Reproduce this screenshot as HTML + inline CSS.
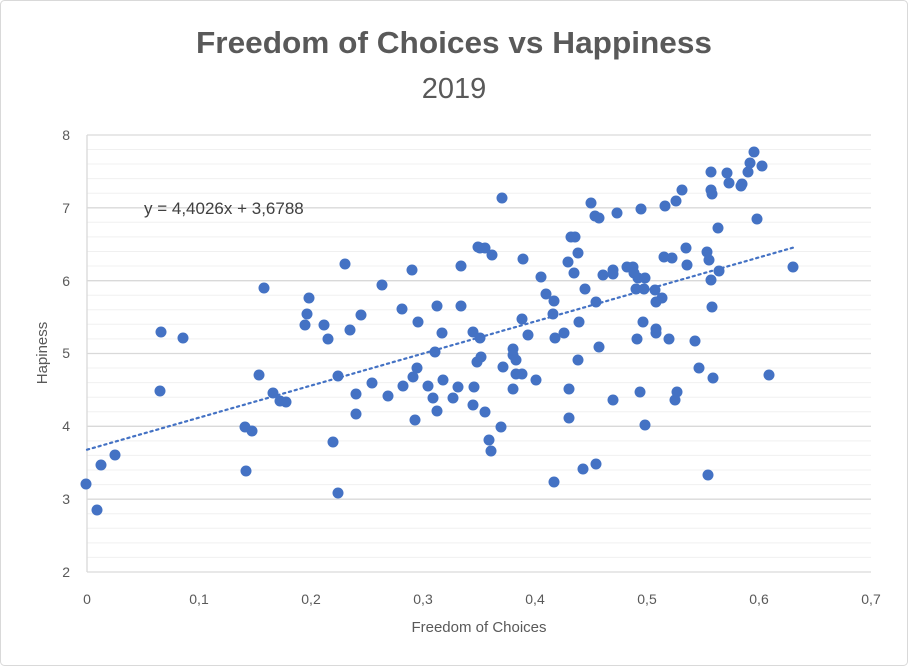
<!DOCTYPE html>
<html><head><meta charset="utf-8"><style>
html,body{margin:0;padding:0;background:#fff;}
svg{display:block;font-family:"Liberation Sans",sans-serif;}
</style></head><body>
<svg width="908" height="666" viewBox="0 0 908 666" xmlns="http://www.w3.org/2000/svg">
<rect x="0.5" y="0.5" width="907" height="665" rx="4" fill="#fff" stroke="#d9d9d9"/>
<text x="454" y="53" text-anchor="middle" font-size="31" font-weight="bold" fill="#595959" textLength="516" lengthAdjust="spacingAndGlyphs">Freedom of Choices vs Happiness</text>
<text x="454" y="98" text-anchor="middle" font-size="29" fill="#595959">2019</text>
<g stroke="#f0f0f0" stroke-width="1">
<path d="M87 557.4H871M87 542.9H871M87 528.3H871M87 513.7H871M87 484.6H871M87 470H871M87 455.4H871M87 440.9H871M87 411.7H871M87 397.2H871M87 382.6H871M87 368H871M87 338.9H871M87 324.3H871M87 309.7H871M87 295.2H871M87 266H871M87 251.5H871M87 236.9H871M87 222.3H871M87 193.2H871M87 178.6H871M87 164H871M87 149.5H871"/>
</g>
<g stroke="#d9d9d9" stroke-width="1.3">
<path d="M87 572H871M87 499.2H871M87 426.3H871M87 353.5H871M87 280.7H871M87 207.8H871M87 135H871"/>
<path d="M87 135V572"/>
</g>
<g font-size="14" fill="#595959" text-anchor="end">
<text x="70" y="577">2</text><text x="70" y="504">3</text><text x="70" y="431">4</text><text x="70" y="358">5</text><text x="70" y="286">6</text><text x="70" y="213">7</text><text x="70" y="140">8</text>
</g>
<g font-size="14" fill="#595959" text-anchor="middle">
<text x="87" y="604">0</text><text x="199" y="604">0,1</text><text x="311" y="604">0,2</text><text x="423" y="604">0,3</text><text x="535" y="604">0,4</text><text x="647" y="604">0,5</text><text x="759" y="604">0,6</text><text x="871" y="604">0,7</text>
</g>
<text x="479" y="632" text-anchor="middle" font-size="15" fill="#595959">Freedom of Choices</text>
<text transform="translate(47,353) rotate(-90)" text-anchor="middle" font-size="15" fill="#595959">Hapiness</text>
<text x="144" y="214" font-size="17" fill="#404040">y = 4,4026x + 3,6788</text>
<g fill="#4472C4">
<circle cx="86" cy="484" r="5.5"/><circle cx="97" cy="510" r="5.5"/><circle cx="101" cy="465" r="5.5"/><circle cx="115" cy="455" r="5.5"/><circle cx="161" cy="332" r="5.5"/><circle cx="160" cy="391" r="5.5"/><circle cx="183" cy="338" r="5.5"/><circle cx="259" cy="375" r="5.5"/><circle cx="264" cy="288" r="5.5"/><circle cx="273" cy="393" r="5.5"/><circle cx="280" cy="401" r="5.5"/><circle cx="286" cy="402" r="5.5"/><circle cx="245" cy="427" r="5.5"/><circle cx="252" cy="431" r="5.5"/><circle cx="246" cy="471" r="5.5"/><circle cx="305" cy="325" r="5.5"/><circle cx="307" cy="314" r="5.5"/><circle cx="309" cy="298" r="5.5"/><circle cx="324" cy="325" r="5.5"/><circle cx="328" cy="339" r="5.5"/><circle cx="345" cy="264" r="5.5"/><circle cx="350" cy="330" r="5.5"/><circle cx="361" cy="315" r="5.5"/><circle cx="338" cy="376" r="5.5"/><circle cx="356" cy="394" r="5.5"/><circle cx="356" cy="414" r="5.5"/><circle cx="333" cy="442" r="5.5"/><circle cx="338" cy="493" r="5.5"/><circle cx="372" cy="383" r="5.5"/><circle cx="382" cy="285" r="5.5"/><circle cx="388" cy="396" r="5.5"/><circle cx="402" cy="309" r="5.5"/><circle cx="403" cy="386" r="5.5"/><circle cx="412" cy="270" r="5.5"/><circle cx="418" cy="322" r="5.5"/><circle cx="417" cy="368" r="5.5"/><circle cx="413" cy="377" r="5.5"/><circle cx="415" cy="420" r="5.5"/><circle cx="428" cy="386" r="5.5"/><circle cx="433" cy="398" r="5.5"/><circle cx="437" cy="411" r="5.5"/><circle cx="435" cy="352" r="5.5"/><circle cx="437" cy="306" r="5.5"/><circle cx="442" cy="333" r="5.5"/><circle cx="443" cy="380" r="5.5"/><circle cx="453" cy="398" r="5.5"/><circle cx="458" cy="387" r="5.5"/><circle cx="461" cy="266" r="5.5"/><circle cx="461" cy="306" r="5.5"/><circle cx="478" cy="247" r="5.5"/>
<circle cx="502" cy="198" r="5.5"/><circle cx="473" cy="332" r="5.5"/><circle cx="480" cy="338" r="5.5"/><circle cx="477" cy="362" r="5.5"/><circle cx="481" cy="357" r="5.5"/><circle cx="474" cy="387" r="5.5"/><circle cx="473" cy="405" r="5.5"/><circle cx="485" cy="412" r="5.5"/><circle cx="501" cy="427" r="5.5"/><circle cx="489" cy="440" r="5.5"/><circle cx="491" cy="451" r="5.5"/><circle cx="480" cy="248" r="5.5"/><circle cx="485" cy="248" r="5.5"/><circle cx="492" cy="255" r="5.5"/><circle cx="523" cy="259" r="5.5"/><circle cx="541" cy="277" r="5.5"/><circle cx="546" cy="294" r="5.5"/><circle cx="554" cy="301" r="5.5"/><circle cx="553" cy="314" r="5.5"/><circle cx="522" cy="319" r="5.5"/><circle cx="528" cy="335" r="5.5"/><circle cx="555" cy="338" r="5.5"/><circle cx="564" cy="333" r="5.5"/><circle cx="579" cy="322" r="5.5"/><circle cx="596" cy="302" r="5.5"/><circle cx="585" cy="289" r="5.5"/><circle cx="574" cy="273" r="5.5"/><circle cx="568" cy="262" r="5.5"/><circle cx="578" cy="253" r="5.5"/><circle cx="571" cy="237" r="5.5"/><circle cx="575" cy="237" r="5.5"/><circle cx="591" cy="203" r="5.5"/><circle cx="595" cy="216" r="5.5"/><circle cx="599" cy="218" r="5.5"/><circle cx="617" cy="213" r="5.5"/><circle cx="641" cy="209" r="5.5"/><circle cx="665" cy="206" r="5.5"/><circle cx="676" cy="201" r="5.5"/><circle cx="682" cy="190" r="5.5"/><circle cx="711" cy="172" r="5.5"/><circle cx="727" cy="173" r="5.5"/><circle cx="729" cy="183" r="5.5"/><circle cx="741" cy="186" r="5.5"/><circle cx="742" cy="184" r="5.5"/><circle cx="711" cy="190" r="5.5"/><circle cx="712" cy="194" r="5.5"/><circle cx="748" cy="172" r="5.5"/><circle cx="750" cy="163" r="5.5"/><circle cx="754" cy="152" r="5.5"/><circle cx="762" cy="166" r="5.5"/><circle cx="757" cy="219" r="5.5"/><circle cx="718" cy="228" r="5.5"/><circle cx="686" cy="248" r="5.5"/><circle cx="707" cy="252" r="5.5"/><circle cx="709" cy="260" r="5.5"/><circle cx="687" cy="265" r="5.5"/><circle cx="664" cy="257" r="5.5"/><circle cx="672" cy="258" r="5.5"/><circle cx="719" cy="271" r="5.5"/><circle cx="711" cy="280" r="5.5"/><circle cx="712" cy="307" r="5.5"/><circle cx="793" cy="267" r="5.5"/><circle cx="603" cy="275" r="5.5"/><circle cx="613" cy="270" r="5.5"/><circle cx="613" cy="274" r="5.5"/><circle cx="627" cy="267" r="5.5"/><circle cx="633" cy="267" r="5.5"/><circle cx="634" cy="273" r="5.5"/><circle cx="638" cy="278" r="5.5"/><circle cx="645" cy="278" r="5.5"/><circle cx="636" cy="289" r="5.5"/><circle cx="644" cy="289" r="5.5"/><circle cx="655" cy="290" r="5.5"/><circle cx="662" cy="298" r="5.5"/><circle cx="656" cy="302" r="5.5"/><circle cx="643" cy="322" r="5.5"/><circle cx="656" cy="329" r="5.5"/><circle cx="656" cy="333" r="5.5"/><circle cx="637" cy="339" r="5.5"/><circle cx="669" cy="339" r="5.5"/><circle cx="695" cy="341" r="5.5"/><circle cx="599" cy="347" r="5.5"/><circle cx="578" cy="360" r="5.5"/><circle cx="513" cy="349" r="5.5"/><circle cx="513" cy="355" r="5.5"/><circle cx="516" cy="360" r="5.5"/><circle cx="503" cy="367" r="5.5"/><circle cx="516" cy="374" r="5.5"/><circle cx="522" cy="374" r="5.5"/><circle cx="536" cy="380" r="5.5"/><circle cx="513" cy="389" r="5.5"/><circle cx="569" cy="389" r="5.5"/><circle cx="569" cy="418" r="5.5"/><circle cx="613" cy="400" r="5.5"/><circle cx="640" cy="392" r="5.5"/><circle cx="677" cy="392" r="5.5"/><circle cx="675" cy="400" r="5.5"/><circle cx="645" cy="425" r="5.5"/><circle cx="699" cy="368" r="5.5"/><circle cx="713" cy="378" r="5.5"/><circle cx="769" cy="375" r="5.5"/><circle cx="554" cy="482" r="5.5"/><circle cx="583" cy="469" r="5.5"/><circle cx="596" cy="464" r="5.5"/><circle cx="708" cy="475" r="5.5"/>
</g>
<line x1="87" y1="449.7" x2="795" y2="247.1" stroke="#4472C4" stroke-width="2.2" stroke-dasharray="2.2 3.8" stroke-linecap="round"/>
</svg>
</body></html>
